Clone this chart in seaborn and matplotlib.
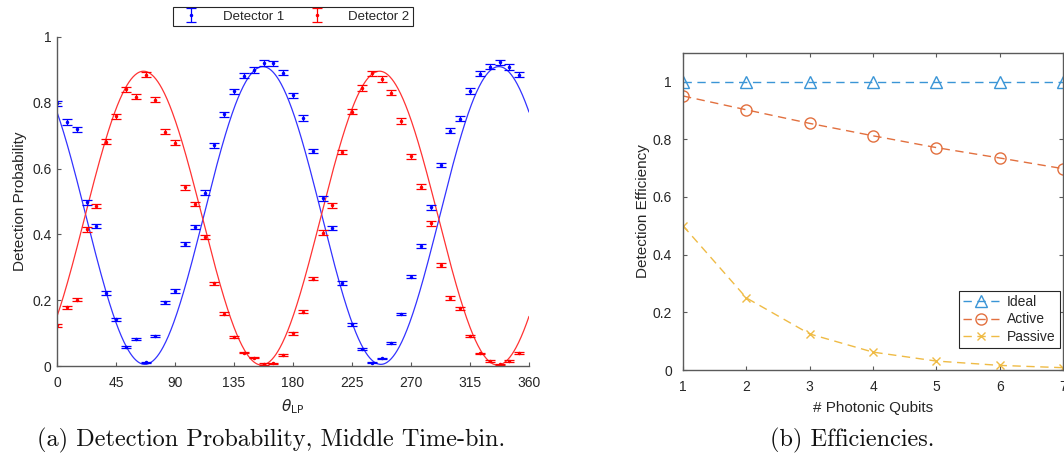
import numpy as np
import pandas as pd
import matplotlib
matplotlib.use("Agg")
import matplotlib.pyplot as plt
import seaborn as sns

# ---------------- data: (a) detection probability ----------------
theta = [0, 7.5, 15, 22.5, 30, 37.5, 45, 52.5, 60, 67.5, 75, 82.5,
         90, 97.5, 105, 112.5, 120, 127.5, 135, 142.5, 150, 157.5, 165, 172.5,
         180, 187.5, 195, 202.5, 210, 217.5, 225, 232.5, 240, 247.5, 255, 262.5,
         270, 277.5, 285, 292.5, 300, 307.5, 315, 322.5, 330, 337.5, 345, 352.5]

det1 = [0.798, 0.742, 0.719, 0.497, 0.425, 0.222, 0.142, 0.059, 0.081, 0.011, 0.091, 0.194,
        0.228, 0.371, 0.422, 0.527, 0.671, 0.765, 0.835, 0.882, 0.900, 0.921, 0.920, 0.891,
        0.823, 0.754, 0.653, 0.510, 0.420, 0.252, 0.127, 0.052, 0.010, 0.023, 0.069, 0.158,
        0.272, 0.364, 0.482, 0.611, 0.715, 0.752, 0.836, 0.889, 0.910, 0.923, 0.909, 0.885]

det2 = [0.124, 0.178, 0.202, 0.415, 0.486, 0.682, 0.759, 0.841, 0.819, 0.885, 0.810, 0.712,
        0.679, 0.543, 0.492, 0.391, 0.251, 0.159, 0.089, 0.041, 0.025, 0.006, 0.008, 0.033,
        0.099, 0.165, 0.265, 0.405, 0.488, 0.651, 0.773, 0.845, 0.890, 0.872, 0.831, 0.745,
        0.637, 0.545, 0.434, 0.306, 0.207, 0.175, 0.091, 0.038, 0.015, 0.005, 0.015, 0.039]

err1 = [0.008, 0.008, 0.008, 0.007, 0.007, 0.005, 0.004, 0.003, 0.003, 0.002, 0.003, 0.005,
        0.005, 0.006, 0.007, 0.007, 0.007, 0.008, 0.008, 0.008, 0.008, 0.008, 0.008, 0.008,
        0.008, 0.008, 0.007, 0.007, 0.007, 0.005, 0.004, 0.003, 0.002, 0.002, 0.003, 0.004,
        0.005, 0.006, 0.007, 0.007, 0.008, 0.008, 0.008, 0.008, 0.008, 0.008, 0.008, 0.008]

err2 = [0.004, 0.004, 0.005, 0.007, 0.007, 0.007, 0.008, 0.008, 0.008, 0.008, 0.008, 0.008,
        0.007, 0.007, 0.007, 0.006, 0.005, 0.004, 0.003, 0.003, 0.002, 0.002, 0.002, 0.003,
        0.004, 0.004, 0.005, 0.007, 0.007, 0.007, 0.008, 0.008, 0.008, 0.008, 0.008, 0.008,
        0.007, 0.007, 0.007, 0.006, 0.005, 0.004, 0.003, 0.003, 0.002, 0.002, 0.002, 0.003]

# fitted Malus-law curves: offset + amplitude * cos^2(theta - peak)
fit1_offset, fit1_amp, fit1_peak = 0.005, 0.905, 157.0
fit2_offset, fit2_amp, fit2_peak = 0.003, 0.893, 66.0

# ---------------- data: (b) efficiencies ----------------
qubits = [1, 2, 3, 4, 5, 6, 7]
ideal = [1.0, 1.0, 1.0, 1.0, 1.0, 1.0, 1.0]
active = [0.950, 0.902, 0.855, 0.812, 0.771, 0.735, 0.698]
passive = [0.500, 0.250, 0.125, 0.062, 0.031, 0.016, 0.008]

x_ticks_a = [0, 45, 90, 135, 180, 225, 270, 315, 360]
y_ticks = [0, 0.2, 0.4, 0.6, 0.8, 1.0]
y_tick_labels = ["0", "0.2", "0.4", "0.6", "0.8", "1"]

# ---------------- style ----------------
sns.set_style("ticks")
plt.rcParams["font.family"] = ["Liberation Sans", "DejaVu Sans"]
plt.rcParams["xtick.direction"] = "in"
plt.rcParams["ytick.direction"] = "in"
plt.rcParams["axes.edgecolor"] = "#5a5a5a"
plt.rcParams["axes.linewidth"] = 1.0
plt.rcParams["xtick.color"] = "#5a5a5a"
plt.rcParams["ytick.color"] = "#5a5a5a"
plt.rcParams["xtick.labelcolor"] = "#262626"
plt.rcParams["ytick.labelcolor"] = "#262626"
plt.rcParams["xtick.major.size"] = 3
plt.rcParams["ytick.major.size"] = 3
plt.rcParams["xtick.major.pad"] = 7.5
plt.rcParams["font.size"] = 10

TXT = "#262626"

fig = plt.figure(figsize=(10.64, 4.59), dpi=100)
W, H = 1064, 459
ax1 = fig.add_axes([57 / W, 1 - 366 / H, 472 / W, 329 / H])
ax2 = fig.add_axes([683 / W, 1 - 370 / H, 380 / W, 317.3 / H])

# ---- (a) ----
fit_x = np.linspace(0, 360, 721)
fit1 = fit1_offset + fit1_amp * np.cos(np.deg2rad(fit_x - fit1_peak)) ** 2
fit2 = fit2_offset + fit2_amp * np.cos(np.deg2rad(fit_x - fit2_peak)) ** 2

sns.lineplot(x=fit_x, y=fit1, ax=ax1, color="#3333ff", lw=0.9, legend=False)
sns.lineplot(x=fit_x, y=fit2, ax=ax1, color="#ff3333", lw=0.9, legend=False)

h1 = ax1.errorbar(theta, det1, yerr=err1, fmt=".", color="blue", ms=3,
                  capsize=3.5, elinewidth=0.9, capthick=0.9, label="Detector 1")
h2 = ax1.errorbar(theta, det2, yerr=err2, fmt=".", color="red", ms=3,
                  capsize=3.5, elinewidth=0.9, capthick=0.9, label="Detector 2")

ax1.set_xlim(0, 360)
ax1.set_ylim(0, 1)
ax1.set_xticks(x_ticks_a)
ax1.set_xticklabels([str(t) for t in x_ticks_a])
ax1.set_yticks(y_ticks)
ax1.set_yticklabels(y_tick_labels)
ax1.tick_params(axis="y", pad=4)
sns.despine(ax=ax1)
ax1.set_xlabel(r"$\theta_{\mathrm{LP}}$", fontsize=11, color=TXT, labelpad=5)
ax1.set_ylabel("Detection Probability", fontsize=11, color=TXT, labelpad=4)

leg1 = fig.legend(handles=[h1, h2], labels=["Detector 1", "Detector 2"],
                  loc="upper center", bbox_to_anchor=(293 / W, 0.993), ncol=2,
                  fontsize=9.5, frameon=True, fancybox=False, framealpha=1,
                  edgecolor="#262626", borderpad=0.25, handlelength=2.2,
                  columnspacing=1.4, handletextpad=1.3, borderaxespad=0.3)
leg1.get_frame().set_linewidth(0.8)

# ---- (b) ----
c_ideal, c_active, c_passive = "#3a95d6", "#e2703f", "#efbb45"
dash = (0, (6, 4))
sns.lineplot(x=qubits, y=ideal, ax=ax2, color=c_ideal, linestyle=dash, lw=1,
             marker="^", ms=8, mfc="none", mec=c_ideal, mew=1, label="Ideal")
sns.lineplot(x=qubits, y=active, ax=ax2, color=c_active, linestyle=dash, lw=1,
             marker="o", ms=8, mfc="none", mec=c_active, mew=1, label="Active")
sns.lineplot(x=qubits, y=passive, ax=ax2, color=c_passive, linestyle=dash, lw=1,
             marker="x", ms=6, mec=c_passive, mew=1, label="Passive")

ax2.set_xlim(1, 7)
ax2.set_ylim(0, 1.1)
ax2.set_xticks(qubits)
ax2.set_xticklabels([str(q) for q in qubits])
ax2.set_yticks(y_ticks)
ax2.set_yticklabels(y_tick_labels)
ax2.tick_params(top=True, right=True, labeltop=False, labelright=False)
ax2.tick_params(axis="y", pad=8)
for s in ax2.spines.values():
    s.set_visible(True)
ax2.set_xlabel("# Photonic Qubits", fontsize=11, color=TXT, labelpad=5)
ax2.set_ylabel("Detection Efficiency", fontsize=11, color=TXT, labelpad=2)
leg2 = ax2.legend(loc="lower right", bbox_to_anchor=(0.992, 0.069),
                  fontsize=10, frameon=True, fancybox=False, framealpha=1,
                  edgecolor="#262626", borderpad=0.3, handlelength=2.6,
                  labelspacing=0.25, handletextpad=0.6, borderaxespad=0)
leg2.get_frame().set_linewidth(0.8)

# ---- captions ----
fig.text(271 / W, 1 - 440 / H, "(a) Detection Probability, Middle Time-bin.",
         ha="center", va="center", fontsize=17.5, fontfamily="cmr10", color="#111111")
fig.text(852 / W, 1 - 440 / H, "(b) Efficiencies.",
         ha="center", va="center", fontsize=17.5, fontfamily="cmr10", color="#111111")

fig.savefig("out.png", dpi=100)
